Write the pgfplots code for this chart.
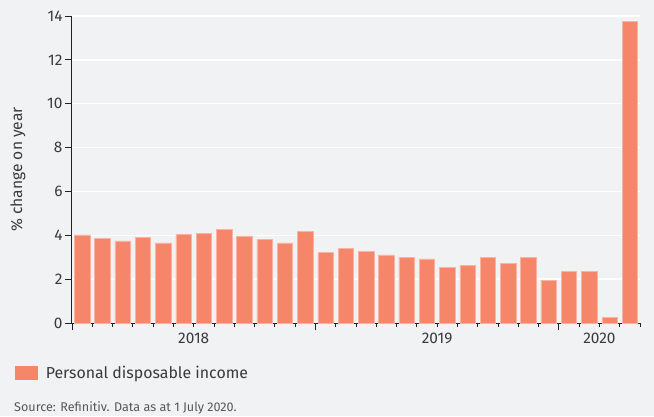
\documentclass[border=0pt]{standalone}
\usepackage{pgfplots}
\pgfplotsset{compat=1.18}
\usepackage{fontspec}
\setmainfont{Fira Sans}
\definecolor{bg}{HTML}{F1F2F4}
\definecolor{barc}{HTML}{F58669}
\definecolor{baredge}{HTML}{F9B3A0}
\definecolor{txt}{HTML}{3A3A3A}
\definecolor{axc}{HTML}{222222}
\begin{document}
\begin{tikzpicture}[x=1pt,y=1pt]
\fill[bg] (0,0) rectangle (654,416);
\begin{axis}[
  at={(72pt,93pt)}, anchor=south west,
  width=568pt, height=307pt, scale only axis,
  xmin=-0.5, xmax=27.5, ymin=0, ymax=14,
  axis lines*=left,
  axis line style={draw=axc, line width=1pt},
  ytick={0,2,...,14},
  ymajorgrids, grid style={white, line width=1.3pt},
  tick align=outside,
  major tick length=7pt, minor tick length=4pt,
  tick style={draw=axc, line width=0.9pt},
  xtick={-0.5,11.5,23.5}, xticklabels={,,},
  minor xtick={0.5,1.5,...,27.5},
  extra x ticks={5.5,17.5,25.5},
  extra x tick labels={2018,2019,2020},
  extra x tick style={tick style={draw=none}},
  /pgf/number format/assume math mode=true,
  ticklabel style={font=\fontsize{15.4}{17}\selectfont, text=txt},
  yticklabel style={xshift=1pt},
  ylabel={\% change on year},
  ylabel style={font=\fontsize{15.6}{17}\selectfont, text=txt, at={(axis description cs:-0.095,0.5)}, anchor=center},
  legend style={draw=none, fill=none, at={(axis description cs:-0.1004,-0.163)}, anchor=west, inner sep=0pt, column sep=8pt,
    font=\fontsize{15.9}{18}\selectfont, text=txt, nodes={inner sep=0pt}},
  legend image code/.code={\fill[barc] (0pt,-6.5pt) rectangle (22pt,6.5pt);},
]
\addplot[ybar, bar width=15.5pt, fill=barc, draw=baredge, line width=0.6pt] coordinates {
(0,4.02) (1,3.86) (2,3.74) (3,3.89) (4,3.65) (5,4.05) (6,4.08) (7,4.27)
(8,3.97) (9,3.82) (10,3.65) (11,4.17) (12,3.21) (13,3.39) (14,3.26) (15,3.11)
(16,2.98) (17,2.92) (18,2.53) (19,2.62) (20,2.98) (21,2.70) (22,2.98) (23,1.95)
(24,2.35) (25,2.35) (26,0.26) (27,13.75)};
\addlegendentry{Personal disposable income}
\end{axis}
\node[anchor=west, inner sep=0pt, font=\fontsize{12.6}{14}\selectfont, text=txt!85] at (14,8) {Source: Refinitiv. Data as at 1 July 2020.};
\end{tikzpicture}
\end{document}
